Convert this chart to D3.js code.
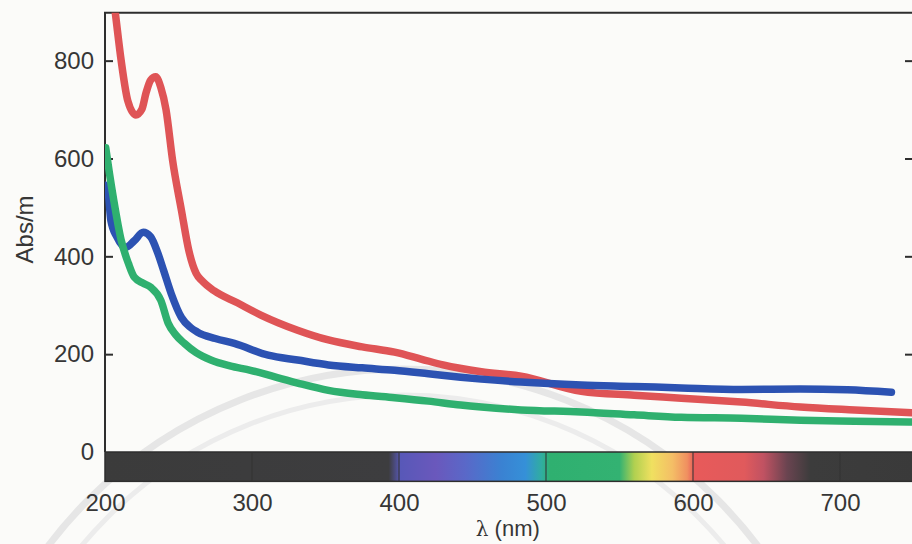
<!DOCTYPE html>
<html>
<head>
<meta charset="utf-8">
<script src="https://cdn.jsdelivr.net/npm/d3@7"></script>
<style>
  html, body { margin: 0; padding: 0; background: #fbfbf9; }
  svg { display: block; }
  .tick text { font-family: "Liberation Sans", Arial, sans-serif; }
</style>
</head>
<body>
<svg id="chart" width="912" height="544"></svg>
<script>
// ---------------- DATA ----------------
const xTicks = [200, 300, 400, 500, 600, 700];
const yTicks = [0, 200, 400, 600, 800];
const seriesNames = ["red", "blue", "green"];

const redNm  = [204, 207, 211, 215.5, 221, 225, 228, 231, 234.5, 238, 241.5, 246, 252, 257, 262, 266, 274, 290, 306, 331, 352, 375, 397, 415, 430, 456, 483, 524, 560, 592, 633, 673, 710, 752];
const redVal = [970, 898, 800, 718, 689, 700, 735, 760, 767, 745, 700, 596, 494, 412, 365, 350, 330, 305, 280, 249, 229, 215, 204, 190, 178, 164, 155, 124, 116, 110, 102, 92, 86, 80];

const blueNm  = [200.5, 202, 204, 208, 214, 220, 226, 231, 236, 240, 245, 252, 258, 263, 275, 288, 311, 331, 352, 375, 397, 420, 442, 456, 483, 524, 560, 592, 633, 673, 705, 735];
const blueVal = [545, 535, 473, 440, 418, 432, 449, 440, 406, 370, 324, 275, 255, 245, 232, 222, 198, 188, 178, 172, 167, 160, 153, 149, 143, 137, 134, 131, 128, 129, 127, 122];

const greenNm  = [200.5, 203, 206, 211, 216, 220, 226, 231, 238, 243, 248, 254, 262, 272, 285, 299, 315, 331, 352, 375, 397, 420, 442, 456, 483, 524, 560, 592, 633, 673, 710, 752];
const greenVal = [622, 570, 514, 433, 385, 357, 345, 337, 310, 263, 240, 222, 203, 188, 176, 167, 154, 141, 126, 117, 111, 104, 96, 92, 86, 82, 76, 71, 69, 65, 63, 61];

// visible-spectrum band under the axis (wavelength -> colour)
const bandNm    = [200, 393, 401, 425, 445, 470, 486, 497, 503, 550, 560, 572, 586, 596, 601, 635, 648, 664, 680, 752];
const bandColor = ["#3b3b3b", "#3d3d3f", "#5858b8", "#6a58bc", "#5a68c8", "#3a82d2", "#3590d8", "#30ada0", "#2fb070", "#33b272", "#b0d050", "#f0e060", "#f4be66", "#f09060", "#e85a5a", "#e05a5c", "#c05262", "#6a4450", "#3c3c3c", "#3a3a3a"];

// ---------------- LAYOUT ----------------
const svg = d3.select("#chart");
const plotLeft = 105, plotRight = 913, plotTop = 12.7, zeroY = 452;
const xDomain = [200, 750];
const yDomain = [0, 898];
const bandBottom = -60; // value at bottom edge of spectrum band

const x = d3.scaleLinear().domain(xDomain).range([plotLeft, plotLeft + (xDomain[1] - xDomain[0]) * 1.47]);
const y = d3.scaleLinear().domain(yDomain).range([zeroY, plotTop]);

const colors = { red: "#df5456", blue: "#2c52b2", green: "#2fb06f" };
const ink = "#2e2e2e";

// faint watermark arcs (scanned paper decoration)
const deco = svg.append("g").attr("fill", "none");
deco.append("circle").attr("cx", 403).attr("cy", 813).attr("r", 444).attr("stroke-width", 7).attr("stroke", "#e6e6e6");
deco.append("circle").attr("cx", 403).attr("cy", 813).attr("r", 418).attr("stroke-width", 5).attr("stroke", "#ececec");

// clip
svg.append("clipPath").attr("id", "plotclip")
  .append("rect").attr("x", plotLeft).attr("y", plotTop)
  .attr("width", plotRight - plotLeft).attr("height", zeroY - plotTop);

// spectrum band gradient
const defs = svg.append("defs");
const grad = defs.append("linearGradient").attr("id", "band")
  .attr("gradientUnits", "userSpaceOnUse")
  .attr("x1", x(bandNm[0])).attr("x2", x(bandNm[bandNm.length - 1]))
  .attr("y1", 0).attr("y2", 0);
const span = bandNm[bandNm.length - 1] - bandNm[0];
bandNm.forEach((nm, i) => {
  grad.append("stop").attr("offset", (nm - bandNm[0]) / span).attr("stop-color", bandColor[i]);
});

svg.append("rect")
  .attr("x", x(xDomain[0]))
  .attr("y", y(0))
  .attr("width", x(xDomain[1]) - x(xDomain[0]) + 2)
  .attr("height", y(bandBottom) - y(0))
  .attr("fill", "url(#band)")
  .attr("stroke", ink).attr("stroke-width", 1.5);

// tick marks through the band
svg.append("g").selectAll("line").data(xTicks.slice(1)).join("line")
  .attr("x1", d => x(d)).attr("x2", d => x(d))
  .attr("y1", y(0)).attr("y2", y(bandBottom))
  .attr("stroke", "#333").attr("stroke-width", 1.3).attr("opacity", 0.8);

// x axis (labels under the band)
const xAxis = svg.append("g")
  .attr("transform", `translate(0,${y(bandBottom)})`)
  .call(d3.axisBottom(x).tickValues(xTicks).tickSize(0).tickPadding(13).tickFormat(d3.format("d")));
xAxis.select(".domain").remove();
xAxis.selectAll("text").attr("font-size", 24).attr("fill", "#363636");

// left y axis
const yAxis = svg.append("g")
  .attr("transform", `translate(${plotLeft},0)`)
  .call(d3.axisLeft(y).tickValues(yTicks).tickSize(-8).tickPadding(11).tickFormat(d3.format("d")));
yAxis.select(".domain").remove();
yAxis.selectAll(".tick line").attr("stroke", ink).attr("stroke-width", 2);
yAxis.selectAll("text").attr("font-size", 24).attr("fill", "#363636");
yAxis.selectAll(".tick").filter(d => d === 0).select("line").remove();

// right axis (inward ticks only)
const yAxisR = svg.append("g")
  .attr("transform", `translate(${plotRight},0)`)
  .call(d3.axisRight(y).tickValues(yTicks.filter(d => d > 0)).tickSize(-8).tickFormat(""));
yAxisR.select(".domain").remove();
yAxisR.selectAll(".tick line").attr("stroke", ink).attr("stroke-width", 2);

// frame: left axis line and top border
svg.append("line").attr("x1", plotLeft).attr("x2", plotLeft)
  .attr("y1", plotTop).attr("y2", y(0))
  .attr("stroke", ink).attr("stroke-width", 2);
svg.append("line").attr("x1", plotLeft - 1).attr("x2", plotRight)
  .attr("y1", plotTop).attr("y2", plotTop)
  .attr("stroke", ink).attr("stroke-width", 2);

// curves
const series = {
  red:   redNm.map((d, i) => [d, redVal[i]]),
  blue:  blueNm.map((d, i) => [d, blueVal[i]]),
  green: greenNm.map((d, i) => [d, greenVal[i]])
};
const line = d3.line().x(d => x(d[0])).y(d => y(d[1])).curve(d3.curveMonotoneX);
const gLines = svg.append("g").attr("clip-path", "url(#plotclip)");
seriesNames.forEach(name => {
  gLines.append("path")
    .datum(series[name])
    .attr("d", line)
    .attr("fill", "none")
    .attr("stroke", colors[name])
    .attr("stroke-width", 7.5)
    .attr("stroke-linejoin", "round")
    .attr("stroke-linecap", "round");
});

// axis titles
svg.append("text")
  .attr("transform", `translate(33,${y(455)}) rotate(-90)`)
  .attr("text-anchor", "middle")
  .attr("font-family", "Liberation Sans, Arial, sans-serif")
  .attr("font-size", 24).attr("fill", "#363636")
  .text("Abs/m");

const xt = svg.append("text")
  .attr("x", x(474)).attr("y", 536)
  .attr("text-anchor", "middle")
  .attr("font-family", "Liberation Sans, Arial, sans-serif")
  .attr("font-size", 22).attr("fill", "#363636");
xt.append("tspan").attr("font-family", "DejaVu Serif, serif").attr("font-size", 20).text("λ");
xt.append("tspan").text("  (nm)");
</script>
</body>
</html>
